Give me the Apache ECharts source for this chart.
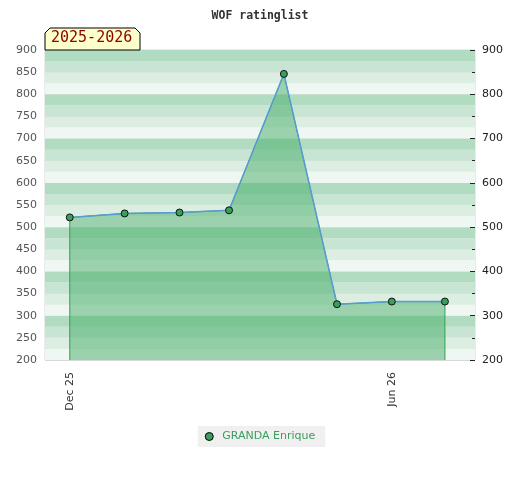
<!DOCTYPE html>
<html><head><meta charset="utf-8">
<script src="https://cdn.jsdelivr.net/npm/echarts@6/dist/echarts.min.js"></script>
<style>html,body{margin:0;padding:0;background:#fff}#c{width:520px;height:480px}</style>
</head><body><div id="c"></div>
<script>
const titleText = 'WOF ratinglist';
const seasonLabel = '2025-2026';
const seriesName = 'GRANDA Enrique';
const dates = ['2025-12-01','2026-01-01','2026-02-01','2026-03-01','2026-04-01','2026-05-01','2026-06-01','2026-07-01'];
const ratings = [522, 531, 533, 538, 846, 326, 332, 332];
const xTickDates = ['2025-12-01','2026-06-01'];
const xTickLabels = ['Dec 25','Jun 26'];
const yMin = 200, yMax = 900;

const ts = s => { const p = s.split('-').map(Number); return Date.UTC(p[0], p[1]-1, p[2]); };
const pts = dates.map((d,i)=>[ts(d), ratings[i]]);
const areaPts = [[pts[0][0], yMin]].concat(pts, [[pts[pts.length-1][0], yMin]]);
const xTicks = xTickDates.map(ts);
const DAY = 86400000;

const chart = echarts.init(document.getElementById('c'), null, {renderer:'canvas'});
chart.setOption({
  animation:false,
  title:{text:titleText, left:'center', top:5, textStyle:{fontFamily:'DejaVu Sans Mono', fontSize:11.5, fontWeight:'bold', color:'#333'}},
  grid:{left:45, right:45, top:50, bottom:120, show:true, borderColor:'#d6d6d6', borderWidth:1, backgroundColor:'transparent'},
  legend:{bottom:33, left:'center', backgroundColor:'#f0f0f0', padding:[5,10,5,7], itemWidth:8, itemHeight:8, icon:'circle',
    data:[{name:seriesName, itemStyle:{color:'#3a9e5c', borderColor:'#000', borderWidth:1}}],
    textStyle:{color:'#3a9e5c', fontSize:11, fontFamily:'DejaVu Sans', padding:[0,0,0,4]}},
  xAxis:{type:'value', min:ts(dates[0])-14*DAY, max:ts(dates[dates.length-1])+17*DAY,
    axisLine:{show:false}, axisTick:{show:false}, splitLine:{show:false},
    axisLabel:{customValues:xTicks, rotate:90, color:'#333', fontSize:11, fontFamily:'DejaVu Sans', margin:12,
      formatter:v=>{ let best=0; xTicks.forEach((t,i)=>{ if(Math.abs(t-v)<Math.abs(xTicks[best]-v)) best=i; }); return xTickLabels[best]; }}},
  yAxis:[
    {type:'value', min:yMin, max:yMax, interval:50, position:'left',
      axisLine:{show:false}, axisTick:{show:false},
      axisLabel:{color:'#555', fontSize:11, fontFamily:'DejaVu Sans', margin:8},
      splitLine:{show:true, lineStyle:{color:'#d8d8d8', width:1}}},
    {type:'value', min:yMin, max:yMax, interval:100, position:'right',
      axisLine:{show:false}, axisTick:{show:true, inside:true, length:5, lineStyle:{color:'#222'}},
      minorTick:{show:true, splitNumber:2, length:3, lineStyle:{color:'#222'}},
      axisLabel:{color:'#222', fontSize:11, fontFamily:'DejaVu Sans', margin:7},
      splitLine:{show:false}},
    {type:'value', min:yMin, max:yMax, interval:25, show:true, position:'left',
      axisLine:{show:false}, axisTick:{show:false}, axisLabel:{show:false}, splitLine:{show:false},
      splitArea:{show:true, areaStyle:{color:['#eff7f2','#dceee2','#c8e5d3','#b2dcc2']}}}
  ],
  graphic:[
    {type:'polygon', shape:{points:[[45,50],[45,33],[50,28],[135,28],[140,33],[140,50]]},
      style:{fill:'#ffffcc', stroke:'#000', lineWidth:1}, z:100},
    {type:'text', left:51, top:31, style:{text:seasonLabel, fill:'#8b0000', font:'15px "DejaVu Sans Mono"'}, z:101}
  ],
  series:[
    {name:'area', type:'line', data:areaPts, symbol:'none', silent:true,
      lineStyle:{color:'#2fa055', width:1}, areaStyle:{color:'rgba(62,169,99,0.48)', opacity:1, origin:'start'}, z:2},
    {name:seriesName, type:'line', data:pts, symbol:'circle', symbolSize:7,
      lineStyle:{color:'#5b9bd5', width:1.5},
      itemStyle:{color:'#3a9e5c', borderColor:'#111', borderWidth:1}, z:3}
  ]
});
</script></body></html>
